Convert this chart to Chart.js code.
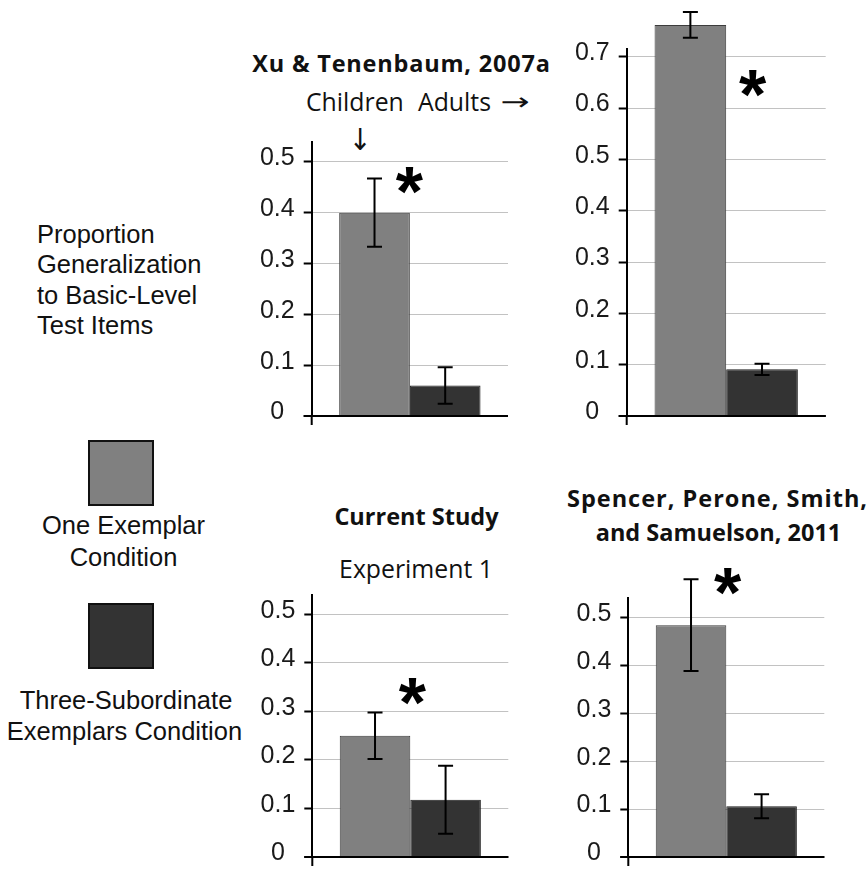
<!DOCTYPE html>
<html>
<head>
<meta charset="utf-8">
<script src="https://cdn.jsdelivr.net/npm/chart.js@4/dist/chart.umd.min.js"></script>
<style>
  html, body { margin: 0; padding: 0; background: #fff; }
  body { width: 868px; height: 881px; position: relative; overflow: hidden; }
  canvas { position: absolute; }
  .t { position: absolute; transform: translate(-50%, -50%); white-space: nowrap; line-height: 1; color: #111; }
  .l { position: absolute; transform: translate(0, -50%); white-space: nowrap; line-height: 1; color: #111; }
  .ttl { font-family: "Open Sans", sans-serif; font-weight: 700; font-size: 23.5px; }
  .sub { font-family: "Open Sans", sans-serif; font-size: 24.8px; }
  .arr { font-family: "DejaVu Sans", sans-serif; font-size: 24px; color: #111; }
  .lbl { font-family: "Liberation Sans", Arial, sans-serif; font-size: 25.5px; }
  .sw { position: absolute; box-sizing: border-box; border: 2.5px solid #111; }
</style>
</head>
<body>

<!-- y-axis caption -->
<div class="l lbl" style="left:37px; top:235px;">Proportion</div>
<div class="l lbl" style="left:37px; top:265px;">Generalization</div>
<div class="l lbl" style="left:37px; top:295.5px;">to Basic-Level</div>
<div class="l lbl" style="left:37px; top:326px;">Test Items</div>

<!-- legend -->
<div class="sw" style="left:88px; top:440px; width:66px; height:66px; background:#808080;"></div>
<div class="t lbl" style="left:123.5px; top:526px;">One Exemplar</div>
<div class="t lbl" style="left:123.5px; top:558px;">Condition</div>
<div class="sw" style="left:88px; top:603px; width:66px; height:66px; background:#333333;"></div>
<div class="t lbl" style="left:126px; top:701px;">Three-Subordinate</div>
<div class="t lbl" style="left:124.5px; top:732px;">Exemplars Condition</div>

<!-- panel headings -->
<div class="t ttl" style="left:401.5px; top:63.5px; letter-spacing:0.8px;">Xu &amp; Tenenbaum, 2007a</div>
<div class="l sub" style="left:306px; top:101px;">Children</div>
<div class="l sub" style="left:418px; top:101px;">Adults</div>
<div class="t arr" style="left:515px; top:102px; transform:translate(-50%,-50%) scaleX(1.45);">→</div>
<div class="t arr" style="left:360px; top:140px; font-size:30px; transform:translate(-50%,-50%) scaleX(0.9);">↓</div>
<div class="t ttl" style="left:416.5px; top:516.5px;">Current Study</div>
<div class="t sub" style="left:416px; top:568px;">Experiment 1</div>
<div class="t ttl" style="left:717.5px; top:499px; letter-spacing:1px;">Spencer, Perone, Smith,</div>
<div class="t ttl" style="left:718.5px; top:533px;">and Samuelson, 2011</div>

<canvas id="c1" width="280" height="440" style="left:240px; top:0px;"></canvas>
<canvas id="c2" width="280" height="440" style="left:555px; top:0px;"></canvas>
<canvas id="c3" width="280" height="411" style="left:240px; top:470px;"></canvas>
<canvas id="c4" width="280" height="411" style="left:556px; top:470px;"></canvas>

<script>
// Conditions (dataset order in every panel)
const conditions = ['One Exemplar Condition', 'Three-Subordinate Exemplars Condition'];

// Proportion of basic-level generalization, with error-bar half widths
const xuChildren      = [0.40, 0.06];
const xuChildrenErr   = [0.067, 0.036];
const xuAdults        = [0.762, 0.091];
const xuAdultsErr     = [0.025, 0.011];
const currentExp1     = [0.25, 0.118];
const currentExp1Err  = [0.048, 0.07];
const spencer2011     = [0.484, 0.106];
const spencer2011Err  = [0.096, 0.025];

// Height of the significance asterisk in each panel (axis units)
const starLevels = [0.465, 0.65, 0.343, 0.577];

// Axis ticks
const ticksToHalf  = [0, 0.1, 0.2, 0.3, 0.4, 0.5];
const ticksToSeven = [0, 0.1, 0.2, 0.3, 0.4, 0.5, 0.6, 0.7];
const axisMaxHalf  = 0.54;
const axisMaxSeven = 0.716;

const barColors    = ['#808080', '#333333'];
const barEdges     = ['#3c3c3c', '#1c1c1c'];

// Error bars drawn on top of each bar
const errorBars = {
  id: 'errorBars',
  afterDatasetsDraw(chart) {
    const { ctx } = chart;
    const y = chart.scales.y;
    chart.data.datasets.forEach((ds, i) => {
      const meta = chart.getDatasetMeta(i);
      meta.data.forEach((bar, j) => {
        const v = ds.data[j], e = ds.errors[j];
        const top = y.getPixelForValue(v + e);
        const bot = y.getPixelForValue(v - e);
        ctx.save();
        ctx.strokeStyle = '#000';
        ctx.lineWidth = 2;
        ctx.beginPath();
        ctx.moveTo(bar.x, top); ctx.lineTo(bar.x, bot);
        ctx.moveTo(bar.x - 7.5, top); ctx.lineTo(bar.x + 7.5, top);
        ctx.moveTo(bar.x - 7.5, bot); ctx.lineTo(bar.x + 7.5, bot);
        ctx.stroke();
        ctx.restore();
      });
    });
  }
};

// Baseline, the stub of the value axis below it, and the asterisk
const axisAndStar = {
  id: 'axisAndStar',
  afterDatasetsDraw(chart, args, opts) {
    const { ctx, chartArea } = chart;
    const y = chart.scales.y;
    const y0 = y.getPixelForValue(0);
    ctx.save();
    ctx.strokeStyle = '#000';
    ctx.lineWidth = 2;
    ctx.beginPath();
    ctx.moveTo(chartArea.left - 8, y0); ctx.lineTo(chartArea.right, y0);
    ctx.moveTo(chartArea.left, y0); ctx.lineTo(chartArea.left, y0 + 9);
    ctx.stroke();

    const first = chart.getDatasetMeta(0).data[0];
    const sx = first.x + first.width / 2 + opts.dx;
    const sy = y.getPixelForValue(opts.level);
    const size = 70;
    ctx.fillStyle = '#000';
    ctx.font = 'bold ' + size + 'px "Liberation Sans", Arial, sans-serif';
    ctx.textAlign = 'center';
    ctx.textBaseline = 'alphabetic';
    ctx.fillText('*', sx, sy + size * 0.52);
    ctx.restore();
  }
};

function makePanel(id, values, errors, ticks, max, star, geo) {
  new Chart(document.getElementById(id), {
    type: 'bar',
    data: {
      labels: [''],
      datasets: conditions.map((name, i) => ({
        label: name,
        data: [values[i]],
        errors: [errors[i]],
        backgroundColor: barColors[i],
        borderColor: barEdges[i],
        borderWidth: 1,
        categoryPercentage: 0.72,
        barPercentage: 1.0,
        clip: false
      }))
    },
    options: {
      responsive: false,
      animation: false,
      devicePixelRatio: 1,
      layout: { padding: { top: geo.padTop, bottom: geo.padBottom, left: 0, right: geo.padRight } },
      plugins: {
        legend: { display: false },
        tooltip: { enabled: false },
        axisAndStar: star
      },
      scales: {
        x: { display: false },
        y: {
          min: 0,
          max: max,
          afterBuildTicks: s => { s.ticks = ticks.map(v => ({ value: v })); },
          afterFit: s => { s.width = geo.axisW; },
          grid: {
            color: c => (c.tick && c.tick.value === 0) ? '#000' : '#c2c2c2',
            lineWidth: c => (c.tick && c.tick.value === 0) ? 2 : 1,
            tickLength: 8,
            tickColor: '#000',
            tickWidth: 2
          },
          border: { display: true, color: '#000', width: 2 },
          ticks: {
            crossAlign: 'center',
            padding: 9,
            labelOffset: -3.5,
            color: '#1a1a1a',
            font: { family: '"Liberation Sans", Arial, sans-serif', size: 25 },
            callback: v => v === 0 ? '0' : v.toFixed(1)
          }
        }
      }
    },
    plugins: [errorBars, axisAndStar]
  });
}

makePanel('c1', xuChildren, xuChildrenErr, ticksToHalf, axisMaxHalf,
  { level: starLevels[0], dx: -0.6 },
  { axisW: 71.7, padTop: 141.5, padBottom: 19.3, padRight: 12 });
makePanel('c2', xuAdults, xuAdultsErr, ticksToSeven, axisMaxSeven,
  { level: starLevels[1], dx: 26.5 },
  { axisW: 71.7, padTop: 48.5, padBottom: 19.3, padRight: 9.3 });
makePanel('c3', currentExp1, currentExp1Err, ticksToHalf, axisMaxHalf,
  { level: starLevels[2], dx: 2 },
  { axisW: 72.3, padTop: 125, padBottom: 7.7, padRight: 11.7 });
makePanel('c4', spencer2011, spencer2011Err, ticksToHalf, axisMaxHalf,
  { level: starLevels[3], dx: 1.4 },
  { axisW: 72.3, padTop: 128.3, padBottom: 4.6, padRight: 11.7 });
</script>
</body>
</html>
